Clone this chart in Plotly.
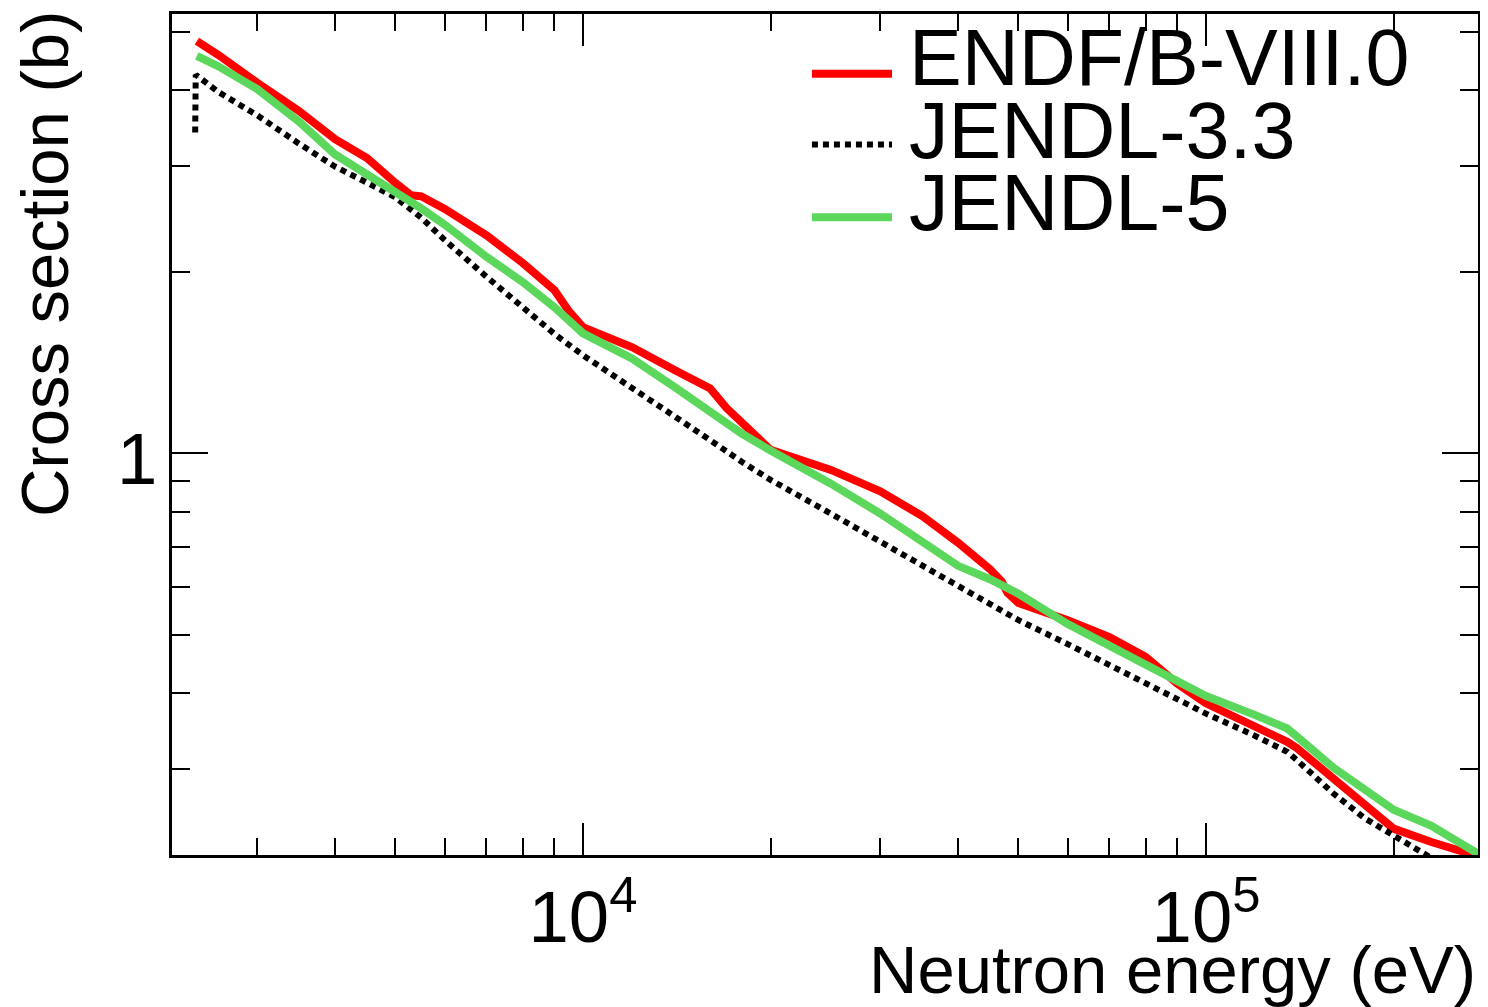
import plotly.graph_objects as go

# ---------------- data ----------------
endf_energy = [2400, 2600, 3000, 3500, 4000, 4500, 5000, 5300, 5500, 6000, 7000, 8000, 9000, 9500,
               10000, 10500, 12000, 14000, 16000, 17000, 18000, 20000, 25000, 30000, 35000, 40000,
               45000, 47000, 48000, 50000, 60000, 70000, 80000, 90000, 100000, 120000, 135000,
               140000, 160000, 180000, 200000, 230000, 260000, 272000]
endf_xs = [4.83, 4.58, 4.12, 3.70, 3.32, 3.09, 2.81, 2.68, 2.67, 2.545, 2.30, 2.07, 1.865, 1.72,
           1.62, 1.584, 1.50, 1.377, 1.282, 1.189, 1.121, 1.014, 0.939, 0.865, 0.788, 0.711,
           0.643, 0.613, 0.587, 0.565, 0.529, 0.496, 0.460, 0.415, 0.385, 0.3526, 0.3324,
           0.3243, 0.2893, 0.261, 0.2386, 0.2267, 0.2181, 0.2125]

jendl33_energy = [2385, 2390, 2600, 3000, 3500, 4000, 4500, 5000, 5500, 6000, 7000, 8000, 9000,
                  10000, 12000, 14000, 16000, 18000, 20000, 25000, 30000, 35000, 40000, 50000,
                  60000, 70000, 80000, 90000, 100000, 120000, 135000, 140000, 160000, 180000,
                  200000, 230000, 260000]
jendl33_xs = [3.406, 4.247, 3.975, 3.638, 3.265, 2.990, 2.813, 2.660, 2.460, 2.259, 1.964, 1.743,
              1.578, 1.455, 1.285, 1.159, 1.052, 0.968, 0.904, 0.7945, 0.714, 0.653, 0.601, 0.529,
              0.4827, 0.4448, 0.4153, 0.3915, 0.3702, 0.3399, 0.320, 0.3097, 0.2731, 0.248,
              0.2318, 0.2133, 0.200]

jendl5_energy = [2400, 2600, 3000, 3500, 4000, 4500, 5000, 5500, 6000, 7000, 8000, 9000, 10000,
                 12000, 14000, 16000, 18000, 20000, 25000, 30000, 35000, 40000, 45000, 50000,
                 60000, 70000, 80000, 90000, 100000, 120000, 135000, 140000, 160000, 180000,
                 200000, 230000, 260000, 275000]
jendl5_xs = [4.566, 4.385, 4.022, 3.551, 3.133, 2.911, 2.724, 2.550, 2.396, 2.119, 1.925, 1.747,
             1.582, 1.436, 1.291, 1.172, 1.078, 1.011, 0.891, 0.795, 0.717, 0.651, 0.6185, 0.585,
             0.521, 0.480, 0.4477, 0.419, 0.3958, 0.3681, 0.3498, 0.339, 0.3014, 0.2767,
             0.2564, 0.2412, 0.2237, 0.216]

series_names = ["ENDF/B-VIII.0", "JENDL-3.3", "JENDL-5"]
x_title = "Neutron energy (eV)"
y_title = "Cross section (b)"

FONT = "Liberation Sans, Arial, Helvetica, sans-serif"
RED = "#FF0000"
GREEN = "#5BD75B"
BLACK = "#000000"
DOT = "6px,5px"

fig = go.Figure()
fig.add_trace(go.Scatter(x=endf_energy, y=endf_xs, mode="lines", name=series_names[0],
                         line=dict(color=RED, width=8), showlegend=False))
fig.add_trace(go.Scatter(x=jendl33_energy, y=jendl33_xs, mode="lines", name=series_names[1],
                         line=dict(color=BLACK, width=6, dash=DOT), showlegend=False))
fig.add_trace(go.Scatter(x=jendl5_energy, y=jendl5_xs, mode="lines", name=series_names[2],
                         line=dict(color=GREEN, width=8), showlegend=False))

axis_common = dict(
    showline=True, linecolor="black", linewidth=3, mirror="allticks",
    ticks="inside", tickcolor="black", tickwidth=2,
    showgrid=False, zeroline=False,
    exponentformat="power", dtick=1,
    tickfont=dict(family=FONT, size=58, color="black"),
)

fig.update_xaxes(type="log", range=[3.3403, 5.4366], ticklen=32,
                 minor=dict(ticks="inside", ticklen=17, tickwidth=2, tickcolor="black",
                            dtick="D1", showgrid=False),
                 ticklabelstandoff=0, **axis_common)
fig.update_yaxes(type="log", range=[-0.6661, 0.7289], ticklen=36,
                 minor=dict(ticks="inside", ticklen=18, tickwidth=2, tickcolor="black",
                            dtick="D1", showgrid=False),
                 ticklabelstandoff=0, ticklabelshift=5, **axis_common)

annotations = [
    dict(text=x_title, xref="paper", yref="paper", x=1.0, y=-0.1363,
         xanchor="right", yanchor="middle", showarrow=False,
         font=dict(family=FONT, size=67, color="black")),
    dict(text=y_title, xref="paper", yref="paper", x=-0.0972, y=1.006,
         xanchor="center", yanchor="top", textangle=-90, showarrow=False,
         font=dict(family=FONT, size=67, color="black")),
]
legend_text_y = [0.9485, 0.8614, 0.776]
legend_key_y = [0.9289, 0.8448, 0.7583]
legend_styles = [dict(color=RED, width=8), dict(color=BLACK, width=6, dash=DOT),
                 dict(color=GREEN, width=8)]
shapes = []
for name, ty, ky, st in zip(series_names, legend_text_y, legend_key_y, legend_styles):
    annotations.append(dict(text=name, xref="paper", yref="paper", x=0.5628, y=ty,
                            xanchor="left", yanchor="middle", showarrow=False,
                            font=dict(family=FONT, size=79, color="black")))
    shapes.append(dict(type="line", xref="paper", yref="paper", x0=0.4900, x1=0.5513,
                       y0=ky, y1=ky, line=st))

# the page body adds an 8 px offset, so the figure is 8 px smaller than the window
fig.update_layout(
    width=1480, height=999,
    margin=dict(l=164, r=10, t=3, b=152),
    paper_bgcolor="white", plot_bgcolor="white",
    showlegend=False,
    annotations=annotations,
    shapes=shapes,
)

fig.write_html("out.html")
